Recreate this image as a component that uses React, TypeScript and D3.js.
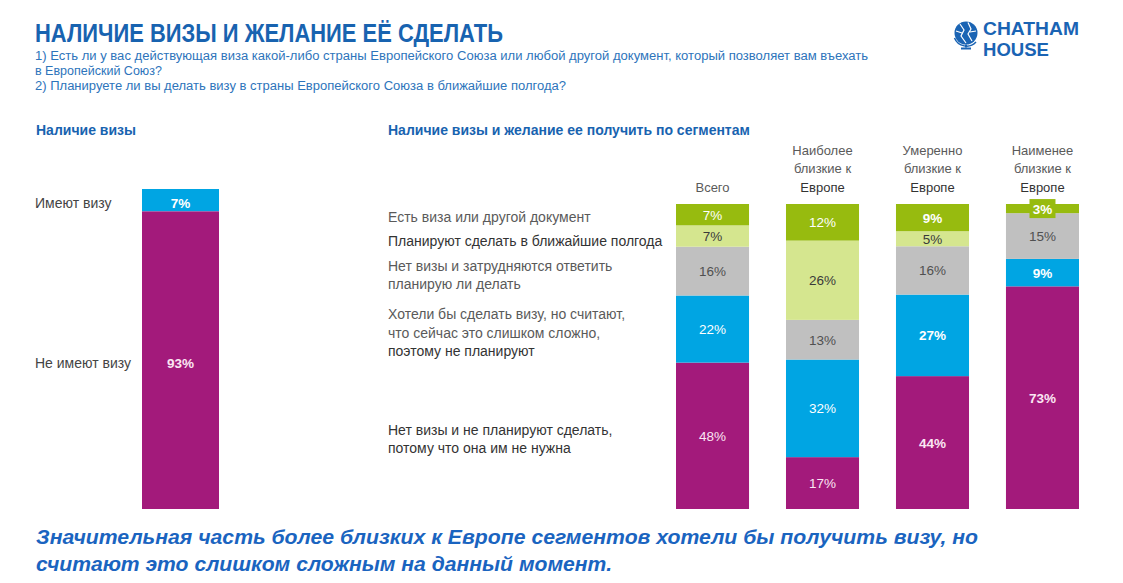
import React from "react";
import * as d3 from "d3";

// ---------- DATA ----------
const titleText = "НАЛИЧИЕ ВИЗЫ И ЖЕЛАНИЕ ЕЁ СДЕЛАТЬ";
const subtitleLines = [
  "1) Есть ли у вас действующая виза какой-либо страны Европейского Союза или любой другой документ, который позволяет вам въехать",
  "в Европейский Союз?",
  "2) Планируете ли вы делать визу в страны Европейского Союза в ближайшие полгода?",
];
const leftTitle = "Наличие визы";
const rightTitle = "Наличие визы и желание ее получить по сегментам";

const overallCategories = ["Имеют визу", "Не имеют визу"];
const overallValues = [7, 93];

const segments = ["Всего", "Наиболее близкие к Европе", "Умеренно близкие к Европе", "Наименее близкие к Европе"];
const segmentHeaderLines = [
  ["Всего"],
  ["Наиболее", "близкие к", "Европе"],
  ["Умеренно", "близкие к", "Европе"],
  ["Наименее", "близкие к", "Европе"],
];

const seriesKeys = ["hasVisa", "planSoon", "undecided", "wantButHard", "notNeeded"];
const seriesLabelLines = [
  ["Есть виза или другой документ"],
  ["Планируют сделать в ближайшие полгода"],
  ["Нет визы и затрудняются ответить", "планирую ли делать"],
  ["Хотели бы сделать визу, но считают,", "что сейчас это  слишком сложно,", "поэтому не планируют"],
  ["Нет визы и не планируют сделать,", "потому что она им не нужна"],
];
const hasVisa = [7, 12, 9, 3];
const planSoon = [7, 26, 5, 0];
const undecided = [16, 13, 16, 15];
const wantButHard = [22, 32, 27, 9];
const notNeeded = [48, 17, 44, 73];

const footerLines = [
  "Значительная часть более близких к Европе сегментов хотели бы получить визу, но",
  "считают это слишком сложным на данный момент.",
];

// ---------- STYLE ----------
const FONT = "'Liberation Sans', Arial, sans-serif";
const BLUE_T = "#1863b0";
const BLUE_S = "#2d74bb";
const seriesColors: Record<string, string> = {
  hasVisa: "#97bb0f",
  planSoon: "#d5e68f",
  undecided: "#c0c0c0",
  wantButHard: "#00a5e3",
  notNeeded: "#a31a7b",
};
const seriesTextColors: Record<string, string> = {
  hasVisa: "#ffffff",
  planSoon: "#3a3a3a",
  undecided: "#505050",
  wantButHard: "#ffffff",
  notNeeded: "#fbe6f3",
};
const legendY = [[217], [241], [266, 284], [314, 333, 351], [430, 448]];
const legendDark = [[false], [true], [false, false], [false, false, true], [true, true]];

export default function App() {
  const W = 1123, H = 583;

  // left chart (first category on top)
  const xL = d3.scaleBand<string>().domain(["all"]).range([142, 219]);
  const yL = d3.scaleLinear().domain([0, 100]).range([509, 189]);
  const totalL = d3.sum(overallValues);
  let accL = totalL;
  const leftSegs = overallCategories.map((c, i) => {
    const top = accL;
    accL -= overallValues[i];
    return { c, v: overallValues[i], y0: accL, y1: top };
  });
  const leftColors = ["#00a5e3", "#a31a7b"];
  const leftLabelY = [203, 363];

  // right chart
  const x = d3.scaleBand<string>().domain(segments).range([676, 1079]).paddingInner(0.336).paddingOuter(0);
  const y = d3.scaleLinear().domain([0, 1]).range([509, 204]);
  const table = segments.map((s, i) => ({
    seg: s,
    hasVisa: hasVisa[i],
    planSoon: planSoon[i],
    undecided: undecided[i],
    wantButHard: wantButHard[i],
    notNeeded: notNeeded[i],
  }));
  const stack = d3.stack<any>().keys([...seriesKeys].reverse()).offset(d3.stackOffsetExpand);
  const stacked = stack(table);

  const boldSeg = (si: number, key: string) =>
    si >= 2 && (key === "hasVisa" || key === "wantButHard" || key === "notNeeded");

  return (
    <svg width={W} height={H} style={{ position: "absolute", left: 0, top: 0, background: "#fff" }} fontFamily={FONT}>
      <rect x={0} y={0} width={W} height={H} fill="#fff" />
      {/* Title */}
      <text x={35} y={42} fontSize={26.5} fontWeight="bold" fill={BLUE_T} textLength={468} lengthAdjust="spacingAndGlyphs">
        {titleText}
      </text>
      {subtitleLines.map((t, i) => (
        <text key={i} x={35} y={60 + i * 15} fontSize={12.5} fill={BLUE_S}
          {...(i === 0 ? { textLength: 833, lengthAdjust: "spacingAndGlyphs" } : {})}
          {...(i === 2 ? { textLength: 531, lengthAdjust: "spacingAndGlyphs" } : {})}>
          {t}
        </text>
      ))}

      {/* Logo */}
      <g>
        <circle cx={966} cy={33} r={11.5} fill="#1a64b4" />
        <path d="M960,24 L964,30 L961,36 L966,43 M968,22.5 L971,29 L968,34 L972,41 M956,31 L962,33 M970,32 L976,31" stroke="#fff" strokeWidth={1.2} fill="none" />
        <path d="M954.5,38 A13,13 0 0 0 976,42" stroke="#1a64b4" strokeWidth={1.5} fill="none" />
        <line x1={966} y1={44.5} x2={966} y2={47.5} stroke="#1a64b4" strokeWidth={2} />
        <line x1={961} y1={48.5} x2={971} y2={48.5} stroke="#1a64b4" strokeWidth={2} />
        <text x={983} y={35.3} fontSize={18} fontWeight="bold" fill="#1a64b4" textLength={96} lengthAdjust="spacingAndGlyphs">CHATHAM</text>
        <text x={983} y={55.6} fontSize={18} fontWeight="bold" fill="#1a64b4" textLength={66} lengthAdjust="spacingAndGlyphs">HOUSE</text>
      </g>

      {/* Section titles */}
      <text x={36} y={135} fontSize={14} fontWeight="bold" fill={BLUE_T}>{leftTitle}</text>
      <text x={388} y={135} fontSize={14} fontWeight="bold" fill={BLUE_T}>{rightTitle}</text>

      {/* Left chart */}
      {leftSegs.map((d, i) => (
        <rect key={"r" + d.c} x={xL("all")} y={yL(d.y1)} width={xL.bandwidth()} height={yL(d.y0) - yL(d.y1)} fill={leftColors[i]} />
      ))}
      {leftSegs.map((d, i) => (
        <g key={d.c}>
          <text x={(xL("all") as number) + xL.bandwidth() / 2} y={leftLabelY[i] + 5} textAnchor="middle" fontSize={13.5}
            fontWeight="bold" fill={i === 0 ? "#fff" : "#fbe6f3"}>{d.v}%</text>
          <text x={35} y={leftLabelY[i] + 5} fontSize={14} fill="#444">{d.c}</text>
        </g>
      ))}

      {/* Right legend labels */}
      {seriesLabelLines.map((lines, si) =>
        lines.map((l, li) => (
          <text key={si + "-" + li} x={388} y={legendY[si][li] + 5}
            fontSize={14}
            fill={legendDark[si][li] ? "#333" : "#5a5a5a"}>{l}</text>
        ))
      )}

      {/* Segment headers */}
      {segments.map((s, i) => {
        const lines = segmentHeaderLines[i];
        const cx = (x(s) as number) + x.bandwidth() / 2;
        return lines.map((l, li) => (
          <text key={s + li} x={cx} y={191.5 - (lines.length - 1 - li) * 18.5} textAnchor="middle" fontSize={13}
            fill={l === "Европе" ? "#333" : "#5a5a5a"}>{l}</text>
        ));
      })}

      {/* Stacked bars */}
      {stacked.map((layer) => {
        const key = layer.key;
        return layer.map((d, si) => {
          const seg = segments[si];
          const val = (table[si] as any)[key] as number;
          if (!val) return null;
          const y0 = y(d[0]);
          const y1 = y(d[1]);
          return (
            <rect key={key + si} x={x(seg)} y={y1} width={x.bandwidth()} height={y0 - y1} fill={seriesColors[key]} />
          );
        });
      })}
      {stacked.map((layer) => {
        const key = layer.key;
        return layer.map((d, si) => {
          const seg = segments[si];
          const val = (table[si] as any)[key] as number;
          if (!val) return null;
          const y0 = y(d[0]);
          const y1 = y(d[1]);
          const cy = (y0 + y1) / 2;
          const cx = (x(seg) as number) + x.bandwidth() / 2;
          const small = y0 - y1 < 14;
          return (
            <g key={"l" + key + si}>
              {small && <rect x={cx - 13} y={cy - 9.5} width={26} height={19} fill={seriesColors[key]} />}
              <text x={cx} y={cy + 5} textAnchor="middle" fontSize={13.5}
                fontWeight={boldSeg(si, key) || small ? "bold" : "normal"} fill={seriesTextColors[key]}>{val}%</text>
            </g>
          );
        });
      })}

      {/* Footer */}
      <text x={36} y={543.5} fontSize={19.5} fontWeight="bold" fontStyle="italic" fill="#1a64c0" textLength={942} lengthAdjust="spacingAndGlyphs">
        {footerLines[0]}
      </text>
      <text x={36} y={570.5} fontSize={19.5} fontWeight="bold" fontStyle="italic" fill="#1a64c0" textLength={576} lengthAdjust="spacingAndGlyphs">
        {footerLines[1]}
      </text>
    </svg>
  );
}
